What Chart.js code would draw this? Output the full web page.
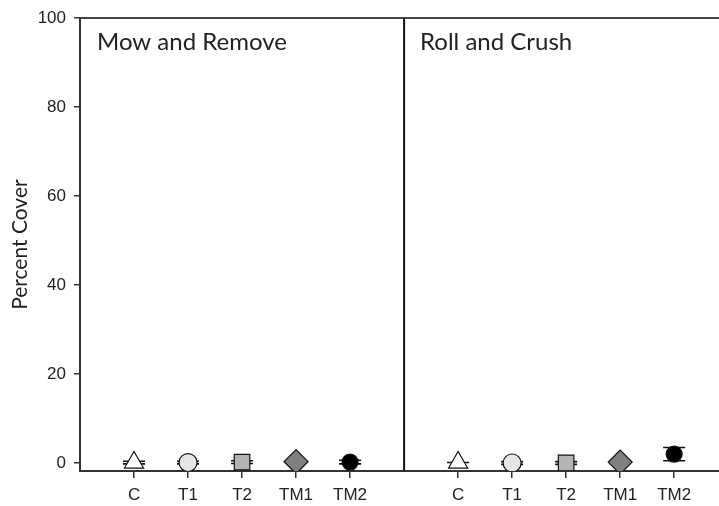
<!DOCTYPE html>
<html>
<head>
<meta charset="utf-8">
<script src="https://cdn.jsdelivr.net/npm/chart.js@4.4.1/dist/chart.umd.min.js"></script>
<style>
  html, body { margin: 0; padding: 0; background: #fff; }
  #wrap { width: 719px; height: 506px; }
</style>
</head>
<body>
<div id="wrap"><canvas id="chart"></canvas></div>
<script>
// treatments and panel names
const categories = ['C', 'T1', 'T2', 'TM1', 'TM2'];
const panels = ['Mow and Remove', 'Roll and Crush'];

// mean percent cover and standard error
const mowMean = [0.1, 0.1, 0.2, 0.3, 0.2];
const mowErr = [0.3, 0.3, 0.3, 0.2, 0.4];
const rollMean = [0.1, 0.0, 0.0, 0.2, 2.0];
const rollErr = [0.0, 0.3, 0.3, 0.0, 1.5];

const yTicks = [0, 20, 40, 60, 80, 100];

// x positions: panel 1 at 1..5, panel 2 at 7..11, divider at 6
const slot = (panel, i) => panel * 6 + i + 1;
const divider = 6;

const styles = [
  { pointStyle: 'triangle', radius: 11, fill: '#ffffff' },
  { pointStyle: 'circle', radius: 9, fill: '#e6e6e6' },
  { pointStyle: 'rect', radius: 11, fill: '#b4b4b4' },
  { pointStyle: 'rectRot', radius: 12, fill: '#7f7f7f' },
  { pointStyle: 'circle', radius: 8, fill: '#000000' }
];

const datasets = categories.map((cat, i) => ({
  label: cat,
  type: 'scatter',
  data: [
    { x: slot(0, i), y: mowMean[i], err: mowErr[i] },
    { x: slot(1, i), y: rollMean[i], err: rollErr[i] }
  ],
  pointStyle: styles[i].pointStyle,
  pointRadius: styles[i].radius,
  pointBackgroundColor: styles[i].fill,
  pointBorderColor: '#111',
  pointBorderWidth: 1.2,
  order: 1
}));

const yMin = -1.8;
datasets.push({
  label: 'divider',
  type: 'line',
  data: [{ x: divider, y: yMin }, { x: divider, y: 100 }],
  borderColor: '#111',
  borderWidth: 2,
  pointRadius: 0,
  order: 2
});

// error bars with caps, drawn under the markers
const errorBars = {
  id: 'errorBars',
  beforeDatasetsDraw(chart) {
    const { ctx, scales: { x, y } } = chart;
    ctx.save();
    ctx.strokeStyle = '#111';
    ctx.lineWidth = 1.6;
    chart.data.datasets.forEach(ds => {
      if (ds.label === 'divider') return;
      ds.data.forEach(p => {
        const px = x.getPixelForValue(p.x);
        const lo = y.getPixelForValue(p.y - p.err);
        const hi = y.getPixelForValue(p.y + p.err);
        const cap = 11;
        ctx.beginPath();
        ctx.moveTo(px, lo); ctx.lineTo(px, hi);
        ctx.moveTo(px - cap, lo); ctx.lineTo(px + cap, lo);
        ctx.moveTo(px - cap, hi); ctx.lineTo(px + cap, hi);
        ctx.stroke();
      });
    });
    ctx.restore();
  }
};

// panel titles
const panelTitles = {
  id: 'panelTitles',
  afterDraw(chart) {
    const { ctx, chartArea, scales: { x } } = chart;
    ctx.save();
    ctx.fillStyle = '#222';
    ctx.font = '24px Lato';
    ctx.textBaseline = 'alphabetic';
    ctx.fillText(panels[0], chartArea.left + 17, chartArea.top + 32);
    ctx.fillText(panels[1], x.getPixelForValue(divider) + 16, chartArea.top + 32);
    ctx.restore();
  }
};

const tickFont = { family: '"Liberation Sans", Arial', size: 17 };

new Chart(document.getElementById('chart'), {
  data: { datasets },
  options: {
    responsive: true,
    maintainAspectRatio: false,
    animation: false,
    layout: { autoPadding: false, padding: { top: 15, right: 0, bottom: 0, left: 0 } },
    plugins: { legend: { display: false }, tooltip: { enabled: false } },
    scales: {
      x: {
        type: 'linear',
        min: 0,
        max: 11.83,
        afterBuildTicks: axis => {
          axis.ticks = categories.map((c, i) => ({ value: slot(0, i) }))
            .concat(categories.map((c, i) => ({ value: slot(1, i) })));
        },
        afterFit: axis => { axis.height = 35; axis.paddingLeft = 0; axis.paddingRight = 0; },
        ticks: {
          autoSkip: false,
          maxRotation: 0,
          padding: 7,
          color: '#222',
          font: tickFont,
          callback: v => categories[(v - 1) % 6]
        },
        grid: { drawOnChartArea: false, tickLength: 7, color: '#333', lineWidth: 1.5 },
        border: { color: '#333', width: 2 }
      },
      xTop: {
        type: 'linear',
        position: 'top',
        min: 0,
        max: 11.83,
        ticks: { display: false },
        grid: { display: false },
        afterFit: axis => { axis.height = 0; axis.paddingLeft = 0; axis.paddingRight = 0; },
        border: { color: '#444', width: 2 }
      },
      y: {
        min: yMin,
        max: 100,
        afterBuildTicks: axis => { axis.ticks = yTicks.map(v => ({ value: v })); },
        afterFit: axis => { axis.width = 80; },
        ticks: {
          padding: 8,
          color: '#222',
          font: tickFont
        },
        grid: { drawOnChartArea: false, tickLength: 6, color: '#333', lineWidth: 1.5 },
        border: { color: '#333', width: 2 },
        title: {
          display: true,
          text: 'Percent Cover',
          color: '#222',
          padding: { top: 8, bottom: 0 },
          font: { family: 'Lato', size: 21 }
        }
      }
    }
  },
  plugins: [errorBars, panelTitles]
});
</script>
</body>
</html>
